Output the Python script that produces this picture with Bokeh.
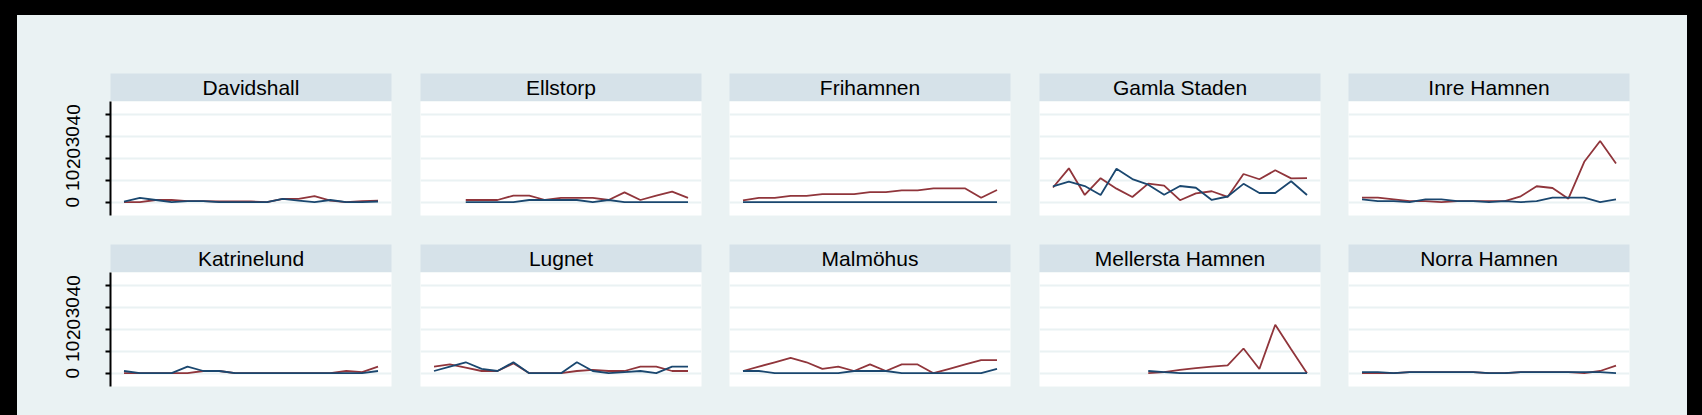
from bokeh.plotting import figure
from bokeh.layouts import column, row
from bokeh.models import Range1d, FixedTicker, Div
from bokeh.core.properties import value
from bokeh.embed import file_html
from bokeh.resources import INLINE

nan = float("nan")

# ---------------- data ----------------
periods = [1, 2, 3, 4, 5, 6, 7, 8, 9, 10, 11, 12, 13, 14, 15, 16, 17]
y_ticks = [0, 10, 20, 30, 40]
districts = ["Davidshall", "Ellstorp", "Frihamnen", "Gamla Staden", "Inre Hamnen",
             "Katrinelund", "Lugnet", "Malmöhus", "Mellersta Hamnen", "Norra Hamnen"]

davidshall_navy = [0.3, 2, 1, 0, 0.5, 0.5, 0, 0, 0, 0, 1.5, 0.7, 0, 1, 0, 0, 0.3]
davidshall_maroon = [0, 0, 1, 1, 0.5, 0.5, 0.3, 0.3, 0.3, 0, 1.5, 1.5, 2.8, 0.7, 0, 0.5, 0.7]

ellstorp_navy = [nan, nan, 0, 0, 0, 0, 1, 1, 1, 1, 0, 1, 0, 0, 0, 0, 0]
ellstorp_maroon = [nan, nan, 1, 1, 1, 3, 3, 1, 2, 2, 2, 1, 4.5, 1, 3, 4.8, 2]

frihamnen_navy = [0, 0, 0, 0, 0, 0, 0, 0, 0, 0, 0, 0, 0, 0, 0, 0, 0]
frihamnen_maroon = [0.8, 2, 2, 2.9, 2.9, 3.7, 3.7, 3.7, 4.6, 4.6, 5.4, 5.4, 6.3, 6.3, 6.3, 2, 5.6]

gamla_staden_navy = [7.2, 9.4, 7.4, 3.3, 15.3, 10.6, 8, 3.4, 7.4, 6.6, 1, 2.6, 8.4, 4.2, 4.2, 9.6, 3.3]
gamla_staden_maroon = [6.7, 15.5, 3.3, 11, 6.2, 2.4, 8.5, 7.6, 0.9, 4, 5, 2.4, 12.9, 10.5, 14.6, 10.9, 11]

inre_hamnen_navy = [1.3, 0.5, 0.5, 0, 1.3, 1.3, 0.5, 0.5, 0, 0.5, 0, 0.5, 2.1, 2.1, 2.1, 0, 1.3]
inre_hamnen_maroon = [2.1, 2.1, 1.3, 0.5, 0.5, 0, 0.5, 0.5, 0.5, 0.5, 2.7, 7.3, 6.5, 1.6, 18.5, 28, 17.7]

katrinelund_navy = [1, 0, 0, 0, 3, 1, 1, 0, 0, 0, 0, 0, 0, 0, 0, 0, 1]
katrinelund_maroon = [0, 0, 0, 0, 0, 1, 1, 0, 0, 0, 0, 0, 0, 0, 1, 0.5, 3]

lugnet_navy = [1, 3, 5, 2, 1, 5, 0, 0, 0, 5, 1, 0, 0.5, 1, 0, 3, 3]
lugnet_maroon = [3, 4, 2.5, 1, 1, 4.5, 0, 0, 0, 1, 1.5, 1, 1, 3, 3, 1, 1]

malmohus_navy = [1, 1, 0, 0, 0, 0, 0, 1, 1, 1, 0, 0, 0, 0, 0, 0, 2]
malmohus_maroon = [1, 3, 5, 7, 5, 2, 3, 1, 4, 1, 4, 4, 0, 2, 4, 6, 6]

mellersta_hamnen_navy = [nan, nan, nan, nan, nan, nan, 1, 0.5, 0, 0, 0, 0, 0, 0, 0, 0, 0]
mellersta_hamnen_maroon = [nan, nan, nan, nan, nan, nan, 0, 0.5, 1.5, 2.3, 3, 3.6, 11.3, 1.9, 22.2, 11, 0]

norra_hamnen_navy = [0.5, 0.5, 0, 0.5, 0.5, 0.5, 0.5, 0.5, 0, 0, 0.5, 0.5, 0.5, 0.5, 0.5, 0.5, 0]
norra_hamnen_maroon = [0, 0, 0, 0.5, 0.5, 0.5, 0.5, 0.5, 0, 0, 0.5, 0.5, 0.5, 0.5, 0, 1, 3.5]

navy_series = [davidshall_navy, ellstorp_navy, frihamnen_navy, gamla_staden_navy, inre_hamnen_navy,
               katrinelund_navy, lugnet_navy, malmohus_navy, mellersta_hamnen_navy, norra_hamnen_navy]
maroon_series = [davidshall_maroon, ellstorp_maroon, frihamnen_maroon, gamla_staden_maroon,
                 inre_hamnen_maroon, katrinelund_maroon, lugnet_maroon, malmohus_maroon,
                 mellersta_hamnen_maroon, norra_hamnen_maroon]

# ---------------- style / layout ----------------
BG = "#EAF2F3"
HEAD = "#D6E2E9"
NAVY = "#1A476F"
MAROON = "#90353B"
FONT = "Liberation Sans"

FRAME_W = 281
FRAME_H = 114
HEAD_H = 28
col_borders = [(93, 14), (15, 14), (14, 14), (15, 14), (14, 58)]
head_top = [58, 14]
plot_bottom = [15, 29]


def header_fig(name, c, r):
    l, rr = col_borders[c]
    p = figure(width=l + FRAME_W + rr, height=head_top[r] + HEAD_H,
               min_border_left=l, min_border_right=rr, min_border_top=head_top[r], min_border_bottom=0,
               x_range=Range1d(0, 1), y_range=Range1d(0, 1),
               x_axis_location=None, y_axis_location=None,
               toolbar_location=None, output_backend="svg",
               background_fill_color=HEAD, border_fill_color=BG, outline_line_color=None)
    p.xgrid.visible = False
    p.ygrid.visible = False
    p.text(x=[0.5], y=[0.5], text=[name], text_align="center", text_baseline="middle",
           text_font=value(FONT), text_font_size="21px", text_color="#000000")
    return p


def plot_fig(idx, c, r):
    l, rr = col_borders[c]
    p = figure(width=l + FRAME_W + rr, height=FRAME_H + plot_bottom[r],
               min_border_left=l, min_border_right=rr, min_border_top=0, min_border_bottom=plot_bottom[r],
               x_range=Range1d(0.15, 17.85), y_range=Range1d(-6.1, 46.1),
               x_axis_location=None, y_axis_location=("left" if c == 0 else None),
               toolbar_location=None, output_backend="svg",
               background_fill_color="white", border_fill_color=BG, outline_line_color=None)
    p.xgrid.visible = False
    p.ygrid.ticker = FixedTicker(ticks=y_ticks)
    p.ygrid.grid_line_color = BG
    p.ygrid.grid_line_width = 2
    if c == 0:
        ax = p.yaxis[0]
        ax.ticker = FixedTicker(ticks=y_ticks)
        ax.major_label_orientation = "vertical"
        ax.major_label_text_font = FONT
        ax.major_label_text_font_size = "19px"
        ax.major_label_text_color = "#000000"
        ax.major_label_standoff = 26
        ax.axis_line_color = "#000000"
        ax.axis_line_width = 2
        ax.major_tick_line_color = "#000000"
        ax.major_tick_line_width = 2
        ax.major_tick_in = 0
        ax.major_tick_out = 5
        ax.minor_tick_line_color = None
    p.line(periods, maroon_series[idx], line_color=MAROON, line_width=1.8)
    p.line(periods, navy_series[idx], line_color=NAVY, line_width=1.8)
    return p


bg_style = {"background-color": BG}
rows_out = []
for r in range(2):
    heads = []
    plots = []
    for c in range(5):
        idx = r * 5 + c
        heads.append(header_fig(districts[idx], c, r))
        plots.append(plot_fig(idx, c, r))
    rows_out.append(row(heads, spacing=0, styles=bg_style))
    rows_out.append(row(plots, spacing=0, styles=bg_style))

panels = column(rows_out, spacing=0, styles=bg_style)

top_bar = Div(text="", width=1702, height=15, margin=0, styles={"background-color": "black"})
left_bar = Div(text="", width=17, height=400, margin=0, styles={"background-color": "black"})
right_bar = Div(text="", width=15, height=400, margin=0, styles={"background-color": "black"})

page = column(top_bar, row(left_bar, panels, right_bar, spacing=0), spacing=0)

open("out.html", "w").write(file_html(page, INLINE))
